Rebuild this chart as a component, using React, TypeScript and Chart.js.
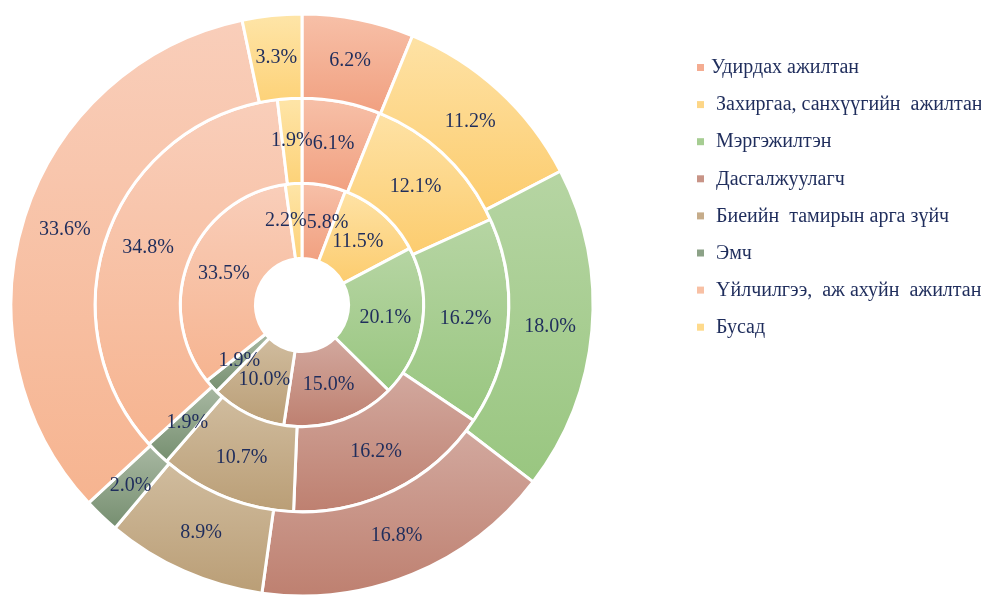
import React, { useEffect, useRef } from "react";
import { Chart, registerables } from "chart.js";

Chart.register(...registerables);

const categories = [
  "Удирдах ажилтан",
  " Захиргаа, санхүүгийн  ажилтан",
  " Мэргэжилтэн",
  " Дасгалжуулагч",
  " Биеийн  тамирын арга зүйч",
  " Эмч",
  " Үйлчилгээ,  аж ахуйн  ажилтан",
  " Бусад",
];
const innerValues = [5.8, 11.5, 20.1, 15.0, 10.0, 1.9, 33.5, 2.2];
const middleValues = [6.1, 12.1, 16.2, 16.2, 10.7, 1.9, 34.8, 1.9];
const outerValues = [6.2, 11.2, 18.0, 16.8, 8.9, 2.0, 33.6, 3.3];

const topColors = [
  "rgb(247,192,168)",
  "rgb(254,226,165)",
  "rgb(182,213,163)",
  "rgb(210,168,158)",
  "rgb(208,188,158)",
  "rgb(168,184,162)",
  "rgb(249,206,186)",
  "rgb(254,229,168)",
];
const bottomColors = [
  "rgb(241,160,128)",
  "rgb(252,204,110)",
  "rgb(153,198,128)",
  "rgb(190,128,112)",
  "rgb(186,158,118)",
  "rgb(118,143,112)",
  "rgb(246,180,144)",
  "rgb(253,210,120)",
];
const legendColors = [
  "rgb(244,172,145)",
  "rgb(253,214,135)",
  "rgb(166,205,146)",
  "rgb(200,148,135)",
  "rgb(198,172,138)",
  "rgb(140,162,135)",
  "rgb(248,192,164)",
  "rgb(254,218,140)",
];

const TEXT_COLOR = "#1f2d5c";
const FONT_FAMILY = '"Liberation Serif", "Times New Roman", serif';

function sliceGradient(ctx: any) {
  const chart = ctx.chart;
  const area = chart.chartArea;
  const i = ctx.dataIndex;
  const d = ctx.datasetIndex;
  if (!area || i === undefined || d === undefined) return legendColors[i ?? 0];
  const ctrl: any = chart.getDatasetMeta(d).controller;
  const inner = ctrl.innerRadius;
  const outer = ctrl.outerRadius;
  if (!outer) return legendColors[i];
  const data = chart.data.datasets[d].data as number[];
  const total = data.reduce((a: number, b: number) => a + b, 0);
  let before = 0;
  for (let k = 0; k < i; k++) before += data[k];
  const a0 = -Math.PI / 2 + (before / total) * 2 * Math.PI;
  const a1 = a0 + (data[i] / total) * 2 * Math.PI;
  const cy = (area.top + area.bottom) / 2;
  const ys = [
    inner * Math.sin(a0),
    inner * Math.sin(a1),
    outer * Math.sin(a0),
    outer * Math.sin(a1),
  ];
  for (const t of [-Math.PI / 2, Math.PI / 2, (3 * Math.PI) / 2]) {
    if (t > a0 && t < a1) {
      ys.push(outer * Math.sin(t));
    }
  }
  const y0 = cy + Math.min(...ys);
  let y1 = cy + Math.max(...ys);
  if (y1 - y0 < 1) y1 = y0 + 1;
  const g = chart.ctx.createLinearGradient(0, y0, 0, y1);
  g.addColorStop(0, topColors[i]);
  g.addColorStop(1, bottomColors[i]);
  return g;
}

const labelPlugin = {
  id: "arcLabels",
  afterDatasetsDraw(chart: any) {
    const c = chart.ctx;
    c.save();
    c.font = "20px " + FONT_FAMILY;
    c.fillStyle = TEXT_COLOR;
    c.textAlign = "center";
    c.textBaseline = "middle";
    chart.data.datasets.forEach((ds: any, d: number) => {
      const meta = chart.getDatasetMeta(d);
      const items = meta.data.map((arc: any, i: number) => {
        const p = arc.getCenterPoint();
        const text = Number(ds.data[i]).toFixed(1) + "%";
        return { x: p.x, y: p.y, text, w: c.measureText(text).width };
      });
      // simple overlap avoidance between neighbours in the same ring
      const n = items.length;
      for (let k = 0; k < n; k++) {
        const a = items[k];
        const b = items[(k + 1) % n];
        if (Math.abs(a.y - b.y) < 12) {
          const need = (a.w + b.w) / 2;
          const dx = Math.abs(a.x - b.x);
          if (dx < need) {
            const shift = (need - dx) / 2;
            if (a.x <= b.x) {
              a.x -= shift;
              b.x += shift;
            } else {
              a.x += shift;
              b.x -= shift;
            }
          }
        }
      }
      items.forEach((it: any) => c.fillText(it.text, it.x, it.y));
    });
    c.restore();
  },
};

const legendPlugin = {
  id: "sideLegend",
  afterDraw(chart: any) {
    const c = chart.ctx;
    c.save();
    c.font = "20px " + FONT_FAMILY;
    c.textBaseline = "middle";
    c.textAlign = "left";
    const x0 = 697;
    const yStart = 67;
    const step = 37.1;
    categories.forEach((name, i) => {
      const y = yStart + i * step;
      c.fillStyle = legendColors[i];
      c.fillRect(x0, y - 3, 7, 7);
      c.fillStyle = TEXT_COLOR;
      c.fillText(name, x0 + 14, y + 1);
    });
    c.restore();
  },
};

export default function App() {
  const ref = useRef<HTMLCanvasElement | null>(null);
  useEffect(() => {
    document.body.style.margin = "0";
    if (!ref.current) return;
    const common = {
      backgroundColor: sliceGradient,
      borderColor: "#ffffff",
      borderWidth: 3,
      hoverOffset: 0,
      hoverBorderWidth: 3,
    };
    const chart = new Chart(ref.current, {
      type: "doughnut",
      data: {
        labels: categories,
        datasets: [
          { label: "outer", data: outerValues, weight: 84, ...common },
          { label: "middle", data: middleValues, weight: 85, ...common },
          { label: "inner", data: innerValues, weight: 75, ...common },
        ],
      },
      options: {
        responsive: false,
        animation: false,
        cutout: "16%",
        layout: { padding: { left: 9.5, top: 12.5, right: 386.5, bottom: 0.5 } },
        plugins: {
          legend: { display: false },
          tooltip: { enabled: false },
        },
        events: [],
      } as any,
      plugins: [labelPlugin, legendPlugin],
    });
    return () => chart.destroy();
  }, []);
  return (
    <div style={{ position: "absolute", left: 0, top: 0, width: 981, height: 598, background: "#fff" }}>
      <canvas ref={ref} width={981} height={598} style={{ display: "block" }} />
    </div>
  );
}
